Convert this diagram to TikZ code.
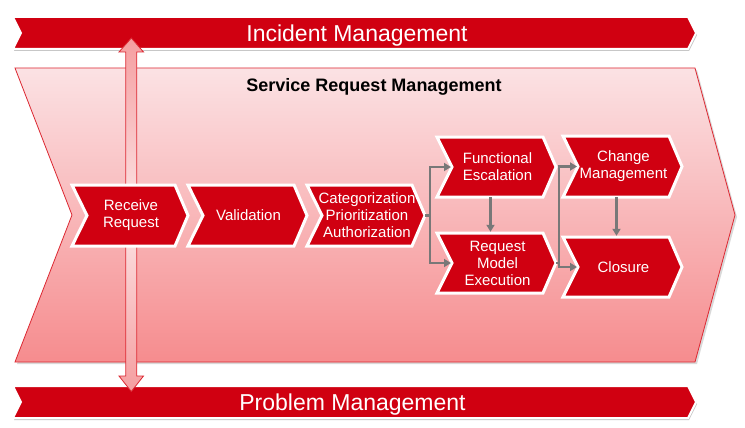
\documentclass[tikz,border=0pt]{standalone}
\usepackage{fontspec}
\setmainfont{Liberation Sans}
\usetikzlibrary{arrows.meta,calc}

\definecolor{brandred}{RGB}{208,0,17}
\definecolor{edgered}{RGB}{220,40,50}
\definecolor{pinktop}{RGB}{251,226,228}
\definecolor{pinkbot}{RGB}{246,140,142}
\definecolor{linkgray}{RGB}{120,120,120}
\definecolor{shaftdark}{RGB}{245,158,160}
\definecolor{shaftlight}{RGB}{252,228,229}

\tikzset{
  banner/.style={fill=brandred, draw=white, line width=2pt, line join=miter},
  bannershadow/.style={fill=black!22},
  bannertext/.style={text=white, font=\fontsize{23}{23}\selectfont, inner sep=0pt, anchor=base},
  stage/.style={top color=pinktop, bottom color=pinkbot, draw=edgered, line width=0.8pt},
  stagetitle/.style={font=\bfseries\fontsize{18}{18}\selectfont, inner sep=0pt, anchor=base},
  shaft/.style={top color=shaftdark, bottom color=shaftdark, middle color=shaftlight,
                draw=edgered, line width=0.8pt, line join=miter},
  stepbox/.style={fill=brandred, draw=white, line width=3pt, line join=miter},
  steptext/.style={text=white, font=\fontsize{15}{17}\selectfont, align=center, inner sep=0pt},
  link/.style={draw=linkgray, line width=2.5pt, shorten >=1pt,
               -{Triangle[width=8pt,length=7pt]}},
  trunk/.style={draw=linkgray, line width=2.5pt},
}

% chevron step: name, left, right, top, bottom, text
\newcommand\chevstep[6]{%
  \path[stepbox] (#2,#4) -- ({#3-13},#4) -- (#3,{(#4+#5)/2}) -- ({#3-13},#5)
     -- (#2,#5) -- ({#2+15},{(#4+#5)/2}) -- cycle;
  \node[steptext, minimum width={#3-#2-28}, minimum height={#5-#4}] (#1)
     at ({(#2+#3)/2+1},{(#4+#5)/2}) {#6};
  \coordinate (#1-in) at ({#2+15},{(#4+#5)/2});
  \coordinate (#1-out) at (#3,{(#4+#5)/2});
}

\begin{document}
\begin{tikzpicture}[x=1pt,y=-1pt]
\useasboundingbox (0,0) rectangle (745,428);
\fill[white] (0,0) rectangle (745,428);

% service request stage
\fill[black!15] (17,70) -- (697,70) -- (737,217) -- (697,364) -- (17,364) -- (74,217) -- cycle;
\path[stage] (15,68) -- (695,68) -- (735,215) -- (695,362) -- (15,362) -- (72,215) -- cycle;
\node[stagetitle] (srm) at (374,91.7) {Service Request Management};

% process banners
\fill[bannershadow] (14,19) -- (689,19) -- (697,35) -- (689,51) -- (14,51) -- (22,35) -- cycle;
\path[banner] (13,17) -- (688,17) -- (696,33) -- (688,49) -- (13,49) -- (21,33) -- cycle;
\node[bannertext] (incident) at (357,41.5) {Incident Management};

\fill[bannershadow] (14,388) -- (689,388) -- (697,404) -- (689,420) -- (14,420) -- (22,404) -- cycle;
\path[banner] (13,386) -- (688,386) -- (696,402) -- (688,418) -- (13,418) -- (21,402) -- cycle;
\node[bannertext] (problem) at (352.5,410.5) {Problem Management};

% two-way link between incident and problem management
\path[shaft] (131.3,38) -- (143.5,52) -- (136.8,52) -- (136.8,376) -- (143.5,376)
   -- (131.3,391.5) -- (119,376) -- (125.8,376) -- (125.8,52) -- (119,52) -- cycle;

% steps
\chevstep{rr}{72}{188}{185}{246}{Receive\\Request}
\chevstep{val}{188}{307}{185}{246}{Validation}
\chevstep{cat}{307}{425}{185}{246}{Categorization\\Prioritization\\Authorization}
\chevstep{fe}{437}{556}{137}{197}{Functional\\Escalation}
\chevstep{rme}{437}{556}{233}{293}{Request\\Model\\Execution}
\chevstep{cm}{563}{682}{136}{197}{Change\\Management}
\chevstep{cl}{563}{682}{237}{297}{Closure}

% connectors
\draw[trunk] (cat-out) -- ++(5,0);
\draw[link] ($(cat-out)+(5,0)$) |- (fe-in);
\draw[link] ($(cat-out)+(5,0)$) |- (rme-in);
\draw[link] ([xshift=-7pt]fe.south) -- ([xshift=-7pt]rme.north);
\draw[trunk] (rme-out) -- ++(3,0);
\draw[link] ($(rme-out)+(3,0)$) |- (cm-in);
\draw[link] ($(rme-out)+(3,0)$) |- (cl-in);
\draw[link] ([xshift=-7pt]cm.south) -- ([xshift=-7pt]cl.north);
\end{tikzpicture}
\end{document}
